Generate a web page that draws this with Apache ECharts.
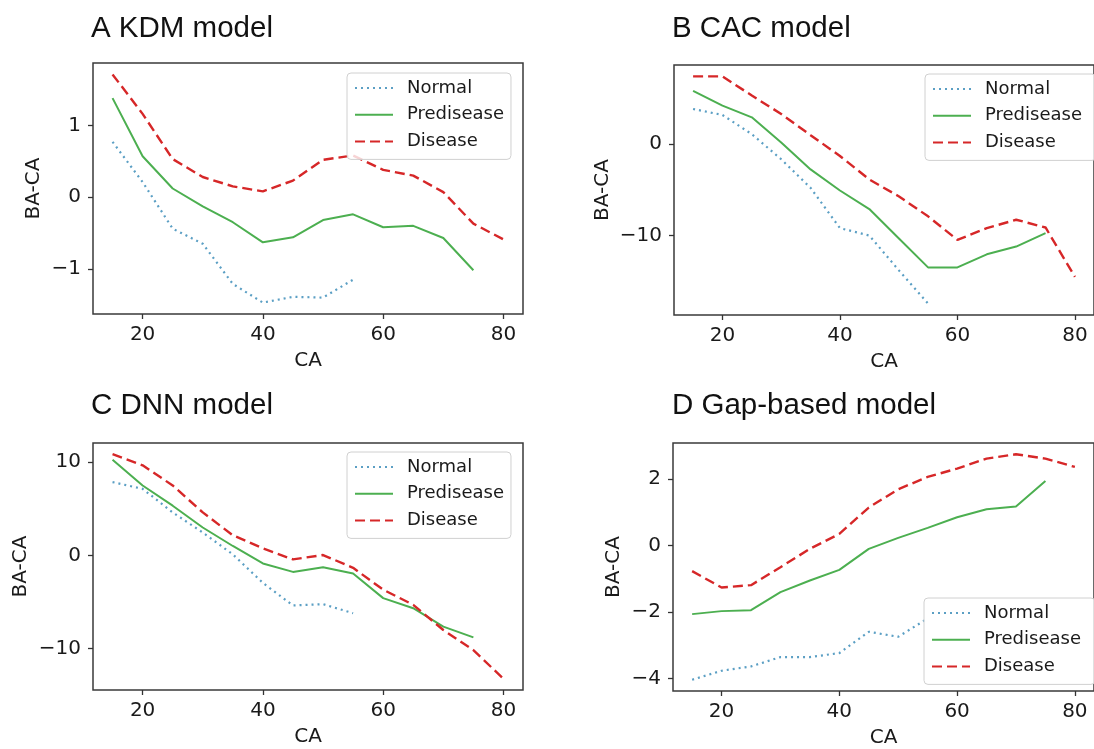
<!DOCTYPE html>
<html>
<head>
<meta charset="utf-8">
<script src="https://cdn.jsdelivr.net/npm/echarts@6/dist/echarts.min.js"></script>
<style>
  html, body { margin: 0; padding: 0; background: #fff; }
  #myChart { width: 1094px; height: 749px; }
</style>
</head>
<body>
<div id="myChart"></div>
<script>
// CA (chronological age) groups
var ages = [15, 20, 25, 30, 35, 40, 45, 50, 55, 60, 65, 70, 75, 80];

// A KDM model
var kdmNormal = [0.77, 0.21, -0.44, -0.65, -1.21, -1.47, -1.39, -1.40, -1.15];
var kdmPredisease = [1.38, 0.57, 0.12, -0.13, -0.35, -0.63, -0.56, -0.32, -0.24, -0.42, -0.40, -0.57, -1.02];
var kdmDisease = [1.71, 1.16, 0.53, 0.28, 0.15, 0.08, 0.23, 0.52, 0.58, 0.38, 0.30, 0.07, -0.37, -0.59];

// B CAC model
var cacNormal = [3.86, 3.20, 1.10, -1.65, -4.78, -9.19, -10.0, -13.79, -17.46];
var cacPredisease = [5.85, 4.23, 2.94, 0.18, -2.76, -5.07, -7.10, -10.29, -13.49, -13.49, -12.06, -11.21, -9.74];
var cacDisease = [7.43, 7.43, 5.33, 3.31, 0.99, -1.29, -3.86, -5.70, -7.90, -10.48, -9.19, -8.27, -9.12, -14.52];

// C DNN model
var dnnNormal = [7.86, 7.14, 4.61, 2.45, 0.11, -2.95, -5.37, -5.23, -6.20];
var dnnPredisease = [10.27, 7.50, 5.33, 2.99, 1.01, -0.86, -1.77, -1.26, -1.95, -4.58, -5.66, -7.64, -8.79];
var dnnDisease = [10.85, 9.66, 7.50, 4.61, 2.16, 0.76, -0.43, 0.04, -1.33, -3.68, -5.30, -8.00, -10.16, -13.23];

// D Gap-based model
var gapNormal = [-4.03, -3.76, -3.63, -3.35, -3.35, -3.23, -2.59, -2.74, -2.19];
var gapPredisease = [-2.06, -1.97, -1.94, -1.40, -1.05, -0.73, -0.10, 0.23, 0.53, 0.85, 1.09, 1.17, 1.94];
var gapDisease = [-0.77, -1.26, -1.19, -0.65, -0.10, 0.35, 1.14, 1.69, 2.06, 2.31, 2.61, 2.74, 2.61, 2.36];

var xTicks = [20, 40, 60, 80];
var kdmTicks = [-1, 0, 1];
var cacTicks = [-10, 0];
var dnnTicks = [-10, 0, 10];
var gapTicks = [-4, -2, 0, 2];

var groupNames = ['Normal', 'Predisease', 'Disease'];

var panels = [
  { title: 'A KDM model', data: [kdmNormal, kdmPredisease, kdmDisease], yTicks: kdmTicks,
    titlePos: [91, 14], grid: [93, 63, 430, 251], nameGap: 49, legendPos: [347, 73], legendPadRight: 7 },
  { title: 'B CAC model', data: [cacNormal, cacPredisease, cacDisease], yTicks: cacTicks,
    titlePos: [672, 14], grid: [674, 65, 429, 250], nameGap: 61, legendPos: [925, 74], legendPadRight: 14 },
  { title: 'C DNN model', data: [dnnNormal, dnnPredisease, dnnDisease], yTicks: dnnTicks,
    titlePos: [91, 391], grid: [93, 443, 430, 247], nameGap: 62, legendPos: [347, 452], legendPadRight: 7 },
  { title: 'D Gap-based model', data: [gapNormal, gapPredisease, gapDisease], yTicks: gapTicks,
    titlePos: [672, 391], grid: [673, 443, 429, 249], nameGap: 49, legendPos: [924, 598], legendPadRight: 14 }
];

var lineStyles = [
  { color: '#5b9fc4', width: 2.2, type: [2, 4] },
  { color: '#4caf50', width: 2, type: 'solid' },
  { color: '#d62728', width: 2.4, type: [10, 5] }
];

function minus (v) {
  return String(v).replace('-', '\u2212');
}

function pad (vals) {
  var lo = Math.min.apply(null, vals);
  var hi = Math.max.apply(null, vals);
  var m = (hi - lo) * 0.05;
  return [lo - m, hi + m];
}

var tickFont = { fontFamily: 'DejaVu Sans', fontSize: 20, color: '#1a1a1a' };
var xExt = pad(ages);

var option = { animation: false, title: [], legend: [], grid: [], xAxis: [], yAxis: [], series: [] };

panels.forEach(function (p, i) {
  var yExt = pad([].concat(p.data[0], p.data[1], p.data[2]));

  option.title.push({
    text: p.title, left: p.titlePos[0], top: p.titlePos[1], padding: 0,
    textStyle: { fontFamily: 'Liberation Sans', fontSize: 29.5, fontWeight: 'normal', color: '#111' }
  });

  option.grid.push({
    left: p.grid[0], top: p.grid[1], width: p.grid[2], height: p.grid[3],
    show: true, borderColor: '#3a3a3a', borderWidth: 1.5, backgroundColor: 'transparent'
  });

  option.xAxis.push({
    type: 'value', gridIndex: i, min: xExt[0], max: xExt[1],
    name: 'CA', nameLocation: 'middle', nameGap: 37, nameTextStyle: tickFont,
    axisLine: { show: false, onZero: false },
    axisTick: { show: true, length: 5, customValues: xTicks, lineStyle: { color: '#333', width: 1.3 } },
    axisLabel: Object.assign({ margin: 11, customValues: xTicks, formatter: minus }, tickFont),
    splitLine: { show: false }
  });

  option.yAxis.push({
    type: 'value', gridIndex: i, min: yExt[0], max: yExt[1],
    name: 'BA-CA', nameLocation: 'middle', nameRotate: 90, nameGap: p.nameGap, nameTextStyle: tickFont,
    axisLine: { show: false, onZero: false },
    axisTick: { show: true, length: 5, customValues: p.yTicks, lineStyle: { color: '#333', width: 1.3 } },
    axisLabel: Object.assign({ margin: 12, customValues: p.yTicks, formatter: minus }, tickFont),
    splitLine: { show: false }
  });

  option.legend.push({
    data: groupNames, orient: 'vertical', left: p.legendPos[0], top: p.legendPos[1],
    itemWidth: 38, itemHeight: 14, itemGap: 7.7,
    padding: [5.5, p.legendPadRight, 8.5, 7],
    borderColor: '#d0d0d0', borderWidth: 1, borderRadius: 4,
    backgroundColor: 'rgba(255,255,255,0.8)',
    selectedMode: false,
    itemStyle: { opacity: 0 },
    textStyle: { fontFamily: 'DejaVu Sans', fontSize: 18, color: '#1a1a1a', lineHeight: 19, padding: [0, 0, 0, 9] }
  });

  groupNames.forEach(function (name, k) {
    option.series.push({
      name: name, type: 'line', xAxisIndex: i, yAxisIndex: i,
      symbol: 'none', smooth: false,
      itemStyle: { color: lineStyles[k].color },
      lineStyle: lineStyles[k],
      data: p.data[k].map(function (v, j) { return [ages[j], v]; })
    });
  });
});

var myChart = echarts.init(document.getElementById('myChart'));
myChart.setOption(option);
</script>
</body>
</html>
